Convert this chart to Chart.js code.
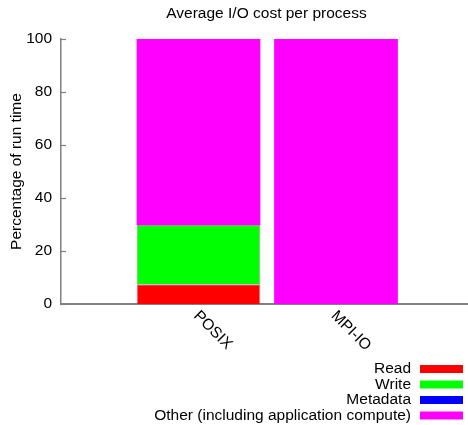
<!DOCTYPE html>
<html>
<head>
<meta charset="utf-8">
<script src="https://cdn.jsdelivr.net/npm/chart.js@4"></script>
<style>
  html, body { margin: 0; padding: 0; background: #fff; }
  #wrap { width: 468px; height: 425px; }
</style>
</head>
<body>
<div id="wrap"><canvas id="chart" width="468" height="425"></canvas></div>
<script>
// data
const categories = ["POSIX", "MPI-IO"];
const seriesNames = ["Read", "Write", "Metadata", "Other (including application compute)"];
const readValues = [7.5, 0];
const writeValues = [22.3, 0];
const metaValues = [0, 0];
const otherValues = [70.2, 100];
const yTicks = [0, 20, 40, 60, 80, 100];

const colors = ["#ff0000", "#00ff00", "#0000ff", "#ff00ff"];
const FONT = "'Liberation Sans', Arial, sans-serif";
const FSIZE = 15.5;
const AXIS = "#808080";

function points(vals) {
  return vals.map((v, i) => ({ x: i, y: v }));
}

const allValues = [readValues, writeValues, metaValues, otherValues];
const datasets = allValues.map((vals, i) => ({
  label: seriesNames[i],
  data: points(vals),
  backgroundColor: colors[i],
  borderColor: i < 2 ? "rgba(70,70,70,0.55)" : colors[i],
  borderWidth: i < 2 ? 1 : 0,
  barPercentage: 1,
  categoryPercentage: 0.9
}));

// title, x labels, inward ticks and the legend are drawn like gnuplot does
const extras = {
  id: "extras",
  afterDraw(chart) {
    const ctx = chart.ctx;
    const area = chart.chartArea;
    const xs = chart.scales.x, ys = chart.scales.y;
    ctx.save();

    ctx.fillStyle = "#000";
    ctx.font = FSIZE + "px " + FONT;
    ctx.textAlign = "center";
    ctx.textBaseline = "middle";
    ctx.fillText("Average I/O cost per process", (area.left + area.right) / 2 + 2, 14);

    // inward y ticks
    ctx.strokeStyle = AXIS;
    ctx.lineWidth = 1.2;
    yTicks.forEach(t => {
      const y = Math.round(ys.getPixelForValue(t)) + 0.5;
      ctx.beginPath();
      ctx.moveTo(area.left, y);
      ctx.lineTo(area.left + 5, y);
      ctx.stroke();
    });

    // rotated category labels
    categories.forEach((c, i) => {
      const x = xs.getPixelForValue(i);
      ctx.save();
      ctx.translate(x + 3, area.bottom + 4);
      ctx.rotate(Math.PI / 4);
      ctx.textAlign = "left";
      ctx.textBaseline = "top";
      ctx.fillText(c, 0, 0);
      ctx.restore();
    });

    // legend, text right aligned, swatch on the right
    ctx.textAlign = "right";
    ctx.textBaseline = "middle";
    chart.data.datasets.forEach((ds, i) => {
      const y = 369 + i * 15.5;
      ctx.fillStyle = "#000";
      ctx.fillText(ds.label, 411, y);
      ctx.fillStyle = ds.backgroundColor;
      ctx.fillRect(420, y - 4, 43, 8);
    });
    ctx.restore();
  }
};

new Chart(document.getElementById("chart"), {
  type: "bar",
  data: { datasets },
  options: {
    responsive: false,
    animation: false,
    layout: { padding: { top: 39, right: 0, left: 0, bottom: 0 } },
    plugins: {
      legend: { display: false },
      title: { display: false },
      tooltip: { enabled: false }
    },
    scales: {
      x: {
        type: "linear",
        stacked: true,
        offset: false,
        min: -1,
        max: 1.96,
        afterBuildTicks: s => { s.ticks = categories.map((c, i) => ({ value: i })); },
        ticks: { display: false },
        grid: { display: false, drawTicks: false, offset: false },
        border: { display: true, color: AXIS, width: 2 },
        afterFit: s => { s.height = 121; }
      },
      y: {
        stacked: true,
        min: 0,
        max: 100,
        afterBuildTicks: s => { s.ticks = yTicks.map(v => ({ value: v })); },
        ticks: { color: "#000", font: { family: FONT, size: FSIZE }, padding: 9 },
        grid: { display: false, drawTicks: false },
        border: { display: true, color: AXIS, width: 1.5 },
        title: {
          display: true,
          text: "Percentage of run time",
          color: "#000",
          font: { family: FONT, size: FSIZE },
          padding: { top: 7, bottom: 0 }
        },
        afterFit: s => { s.width = 61; }
      }
    }
  },
  plugins: [extras]
});
</script>
</body>
</html>
